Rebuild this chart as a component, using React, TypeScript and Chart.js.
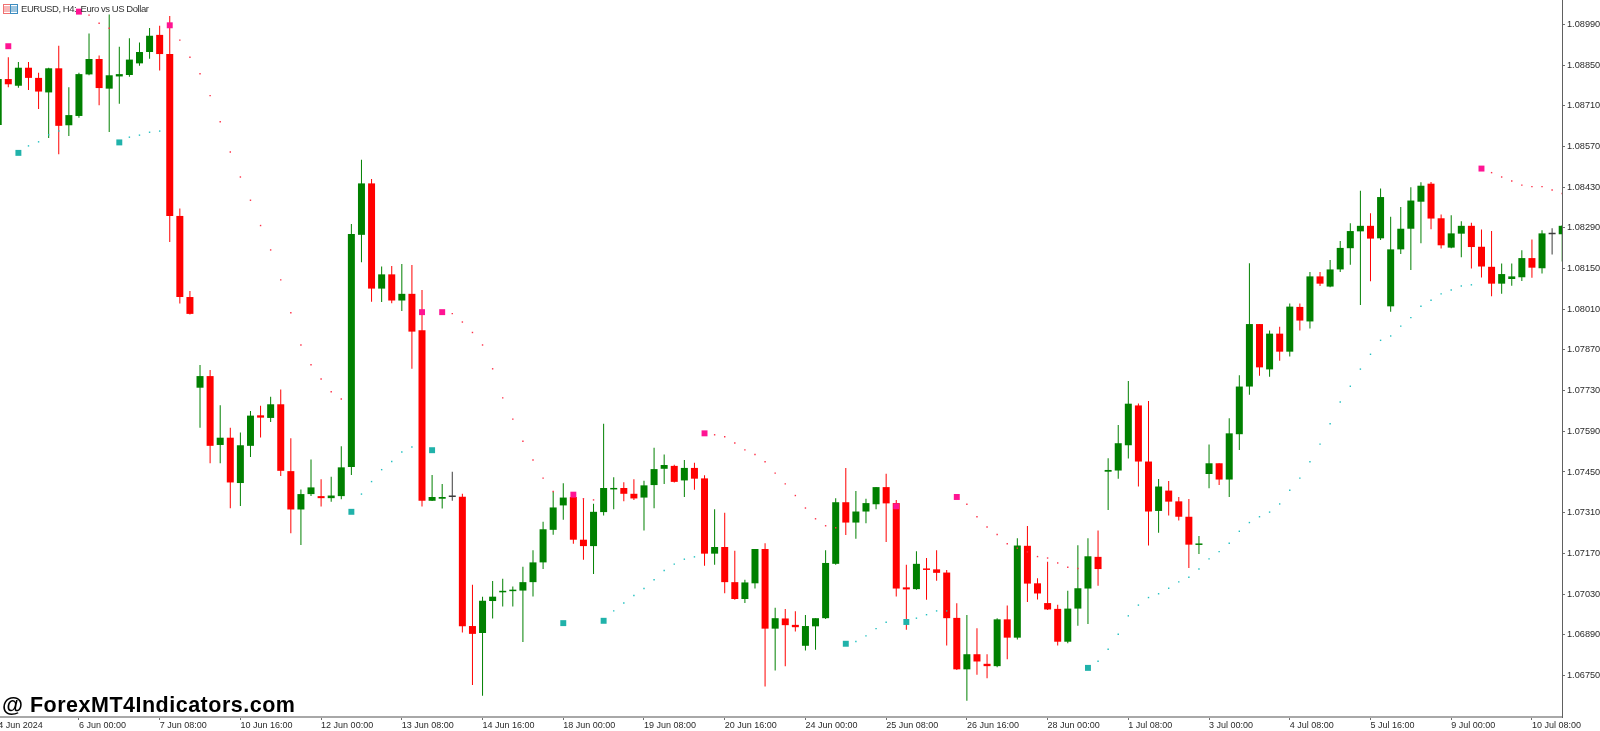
import React, { useEffect, useRef } from "react";
import { Chart, registerables } from "chart.js";

Chart.register(...registerables);

const opens = [
  1.08644, 1.08802, 1.08779, 1.08841, 1.08806, 1.08756, 1.08839, 1.08643, 1.08675, 1.08818,
  1.08871, 1.08769, 1.08811, 1.08816, 1.08856, 1.08895, 1.08954, 1.08888, 1.08331, 1.08052,
  1.0774, 1.0778, 1.07543, 1.07568, 1.07412, 1.0754, 1.07645, 1.07636, 1.07683, 1.07453,
  1.07321, 1.07374, 1.07367, 1.0736, 1.07367, 1.07467, 1.08266, 1.08443, 1.08081, 1.0813,
  1.0804, 1.08063, 1.07938, 1.07351, 1.07358, 1.07364, 1.07365, 1.0692, 1.06896, 1.07006,
  1.07036, 1.0704, 1.07042, 1.07071, 1.07139, 1.07251, 1.07335, 1.07364, 1.07217, 1.07195,
  1.07312, 1.0739, 1.07395, 1.07375, 1.07362, 1.07405, 1.07461, 1.07471, 1.07421, 1.07464,
  1.07428, 1.07169, 1.07192, 1.07071, 1.07013, 1.07067, 1.07185, 1.06911, 1.06946, 1.06924,
  1.06852, 1.06919, 1.06947, 1.07134, 1.07346, 1.07276, 1.07314, 1.07339, 1.07398, 1.07343,
  1.07053, 1.07047, 1.07116, 1.07115, 1.07104, 1.06948, 1.06771, 1.06823, 1.0679, 1.06782,
  1.06943, 1.0688, 1.07196, 1.07067, 1.06999, 1.06979, 1.06866, 1.0698, 1.07049, 1.07158,
  1.07451, 1.07455, 1.07542, 1.07679, 1.07486, 1.07316, 1.07386, 1.07349, 1.07296, 1.07199,
  1.07443, 1.0748, 1.07424, 1.0758, 1.07744, 1.07959, 1.07803, 1.07926, 1.07864, 1.08018,
  1.07968, 1.08123, 1.08088, 1.08147, 1.0822, 1.08278, 1.08297, 1.08254, 1.0802, 1.08216,
  1.08287, 1.0838, 1.08442, 1.08323, 1.08222, 1.0827, 1.08297, 1.08225, 1.08156, 1.08098,
  1.08114, 1.0812, 1.08186, 1.08151, 1.08268, 1.08268,
];

const closes = [
  1.08802, 1.08784, 1.08841, 1.08806, 1.08759, 1.08839, 1.08641, 1.08678, 1.08819, 1.08871,
  1.08771, 1.08815, 1.08819, 1.08869, 1.08895, 1.08951, 1.08888, 1.08331, 1.08052, 1.07994,
  1.0778, 1.0754, 1.07568, 1.07414, 1.07542, 1.07644, 1.07637, 1.07683, 1.07454, 1.07321,
  1.07374, 1.07397, 1.0736, 1.07369, 1.07466, 1.08269, 1.08443, 1.08081, 1.0813, 1.0804,
  1.08063, 1.07933, 1.07351, 1.07364, 1.07364, 1.07364, 1.06919, 1.06893, 1.07007, 1.07021,
  1.07041, 1.07045, 1.07071, 1.07139, 1.07253, 1.07328, 1.07362, 1.07217, 1.07195, 1.07313,
  1.07395, 1.07395, 1.07375, 1.07359, 1.07404, 1.0746, 1.07474, 1.07416, 1.07464, 1.07427,
  1.07169, 1.07192, 1.07071, 1.07013, 1.0707, 1.07185, 1.06911, 1.06947, 1.06923, 1.06916,
  1.0692, 1.06947, 1.07137, 1.07346, 1.07276, 1.07314, 1.07343, 1.07398, 1.07342, 1.07049,
  1.07046, 1.07134, 1.07113, 1.07103, 1.06947, 1.06771, 1.06823, 1.06798, 1.06782, 1.06943,
  1.0688, 1.07197, 1.07066, 1.07032, 1.06977, 1.06866, 1.0698, 1.0705, 1.0716, 1.07116,
  1.07457, 1.07549, 1.07685, 1.07486, 1.07314, 1.074, 1.07348, 1.07296, 1.072, 1.07204,
  1.0748, 1.07424, 1.07583, 1.07744, 1.07959, 1.0781, 1.07926, 1.07864, 1.08019, 1.07971,
  1.08123, 1.08098, 1.08147, 1.08221, 1.08279, 1.08297, 1.08253, 1.08396, 1.08216, 1.08287,
  1.08384, 1.08435, 1.08322, 1.0823, 1.08271, 1.08297, 1.08224, 1.08157, 1.08098, 1.08131,
  1.08123, 1.08186, 1.08153, 1.08271, 1.08268, 1.08297,
];

const highs = [
  1.0881, 1.08877, 1.08861, 1.08861, 1.08824, 1.08841, 1.08917, 1.08774, 1.08824, 1.08959,
  1.08883, 1.09024, 1.08913, 1.08942, 1.08928, 1.08978, 1.08985, 1.09019, 1.08357, 1.08073,
  1.07818, 1.07801, 1.0768, 1.07602, 1.07586, 1.0766, 1.07678, 1.07709, 1.07734, 1.07566,
  1.0739, 1.07493, 1.07425, 1.07434, 1.07539, 1.08303, 1.08524, 1.08458, 1.08157, 1.08159,
  1.08166, 1.08162, 1.08076, 1.0744, 1.07409, 1.07451, 1.07375, 1.07062, 1.07021, 1.07075,
  1.07083, 1.07056, 1.07124, 1.07181, 1.07279, 1.07383, 1.07411, 1.0738, 1.0736, 1.07341,
  1.07616, 1.07432, 1.07415, 1.07425, 1.0742, 1.07533, 1.0751, 1.07475, 1.07491, 1.07482,
  1.07439, 1.07322, 1.0731, 1.07179, 1.07079, 1.07185, 1.07205, 1.06983, 1.06979, 1.06971,
  1.06958, 1.06947, 1.07181, 1.0736, 1.07464, 1.07385, 1.07358, 1.07398, 1.07444, 1.07354,
  1.07131, 1.07177, 1.07154, 1.07181, 1.07113, 1.06998, 1.06958, 1.06912, 1.06823, 1.06947,
  1.06991, 1.07222, 1.07264, 1.07084, 1.07141, 1.06993, 1.07041, 1.07198, 1.07222, 1.07249,
  1.07497, 1.07612, 1.07763, 1.07686, 1.07694, 1.07426, 1.07419, 1.07364, 1.07357, 1.0723,
  1.07545, 1.0748, 1.07635, 1.07783, 1.08168, 1.07959, 1.07937, 1.0795, 1.0803, 1.0803,
  1.08138, 1.08138, 1.08179, 1.08245, 1.08306, 1.08418, 1.0834, 1.08425, 1.08328, 1.08362,
  1.0843, 1.08447, 1.08448, 1.08336, 1.08333, 1.08313, 1.08308, 1.08284, 1.08279, 1.08167,
  1.08167, 1.08213, 1.0825, 1.08282, 1.08289, 1.083,
];

const lows = [
  1.0864, 1.08774, 1.08772, 1.08764, 1.08699, 1.08599, 1.08543, 1.08606, 1.08669, 1.08815,
  1.08712, 1.0862, 1.08717, 1.0881, 1.08848, 1.08872, 1.08831, 1.08241, 1.0803, 1.07992,
  1.07602, 1.0748, 1.0748, 1.07325, 1.07333, 1.07502, 1.07569, 1.07622, 1.07436, 1.07239,
  1.07199, 1.07367, 1.07331, 1.07348, 1.07356, 1.0744, 1.08172, 1.08036, 1.08035, 1.08031,
  1.08004, 1.07805, 1.07331, 1.0735, 1.07324, 1.07351, 1.06898, 1.06717, 1.0668, 1.06946,
  1.06987, 1.06987, 1.06865, 1.07022, 1.07116, 1.07234, 1.07286, 1.07203, 1.07148, 1.07099,
  1.073, 1.07322, 1.07349, 1.07354, 1.07249, 1.07325, 1.07409, 1.07414, 1.07364, 1.07389,
  1.07127, 1.07131, 1.07033, 1.0701, 1.06999, 1.07049, 1.06712, 1.06767, 1.06782, 1.06901,
  1.06836, 1.06838, 1.06944, 1.07131, 1.07233, 1.0722, 1.07274, 1.07322, 1.07209, 1.07022,
  1.06907, 1.07045, 1.0701, 1.07076, 1.06853, 1.06769, 1.06663, 1.06752, 1.0674, 1.06778,
  1.06806, 1.06874, 1.07003, 1.07011, 1.06975, 1.06853, 1.06861, 1.06921, 1.06927, 1.07059,
  1.07319, 1.07427, 1.07496, 1.074, 1.07197, 1.07241, 1.073, 1.07283, 1.0712, 1.07168,
  1.07394, 1.07405, 1.07364, 1.07526, 1.07716, 1.07781, 1.07778, 1.07833, 1.07847, 1.07937,
  1.07944, 1.0809, 1.08086, 1.08138, 1.08163, 1.08025, 1.08106, 1.08248, 1.08001, 1.082,
  1.08145, 1.08237, 1.08285, 1.08219, 1.0822, 1.08189, 1.0815, 1.08119, 1.08055, 1.08063,
  1.08091, 1.08107, 1.08118, 1.08133, 1.08198, 1.08174,
];

const sellSignalBars = [1, 8, 17, 42, 44, 57, 70, 89, 95, 147];
const sellSignalPrices = [1.08915, 1.09034, 1.08987, 1.08, 1.08, 1.07372, 1.07583, 1.07332, 1.07364, 1.08494];

const sellTrailBars = [
  9, 10, 11, 18, 19, 20, 21, 22, 23, 24, 25, 26, 27, 28, 29, 30, 31, 32, 33, 34,
  45, 46, 47, 48, 49, 50, 51, 52, 53, 54, 55, 58, 59,
  71, 72, 73, 74, 75, 76, 77, 78, 79, 80, 81, 82, 83,
  96, 97, 98, 99, 100, 101, 102, 103, 104, 105, 106, 107,
  148, 149, 150, 151, 152, 153, 154, 155,
];
const sellTrailPrices = [
  1.09022, 1.08994, 1.08977, 1.08936, 1.08877, 1.0882, 1.08745, 1.08655, 1.08551, 1.08465,
  1.08385, 1.08298, 1.08214, 1.08111, 1.07998, 1.07887, 1.07819, 1.0777, 1.07726, 1.07701,
  1.07995, 1.07966, 1.0793, 1.07887, 1.07805, 1.07705, 1.07632, 1.07556, 1.07491, 1.07429, 1.07383, 1.07358, 1.07354,
  1.07578, 1.07571, 1.0755, 1.07526, 1.0751, 1.07485, 1.07446, 1.07409, 1.07369, 1.07326, 1.07289, 1.07265, 1.07258,
  1.07339, 1.07296, 1.07261, 1.07235, 1.07203, 1.07188, 1.07175, 1.07159, 1.07154, 1.07137, 1.07122, 1.07118,
  1.0848, 1.08465, 1.08451, 1.08437, 1.08432, 1.08432, 1.0842, 1.08408,
];

const buySignalBars = [2, 12, 35, 43, 56, 60, 84, 90, 108];
const buySignalPrices = [1.08548, 1.08584, 1.07313, 1.07525, 1.0693, 1.06938, 1.06859, 1.06934, 1.06776];

const buyTrailBars = [
  3, 4, 5, 6, 13, 14, 15, 16, 36, 37, 38, 39, 40, 41,
  61, 62, 63, 64, 65, 66, 67, 68, 69, 85, 86, 87, 88, 91, 92, 93, 94,
  109, 110, 111, 112, 113, 114, 115, 116, 117, 118, 119, 120, 121, 122, 123, 124, 125, 126, 127,
  128, 129, 130, 131, 132, 133, 134, 135, 136, 137, 138, 139, 140, 141, 142, 143, 144, 145, 146,
];
const buyTrailPrices = [
  1.08572, 1.08586, 1.0861, 1.08623, 1.08602, 1.08609, 1.08619, 1.08623,
  1.07374, 1.07417, 1.07458, 1.07486, 1.07519, 1.07536,
  1.06972, 1.06999, 1.07025, 1.07049, 1.07079, 1.07111, 1.07133, 1.0715, 1.07158,
  1.06867, 1.06886, 1.06911, 1.06933, 1.06947, 1.06959, 1.06972, 1.06972,
  1.06799, 1.0684, 1.06892, 1.06955, 1.06992, 1.07018, 1.07031, 1.0705, 1.07072, 1.07088,
  1.07116, 1.07151, 1.07176, 1.07205, 1.07246, 1.07276, 1.07296, 1.07312, 1.0734,
  1.07387, 1.07429, 1.07485, 1.07546, 1.07616, 1.07691, 1.07745, 1.07804, 1.07855, 1.07903,
  1.07918, 1.07952, 1.07981, 1.0802, 1.08041, 1.08063, 1.08076, 1.0809, 1.08094,
];

const priceTicks = [
  1.0899, 1.0885, 1.0871, 1.0857, 1.0843, 1.0829, 1.0815, 1.0801, 1.0787, 1.0773, 1.0759,
  1.0745, 1.0731, 1.0717, 1.0703, 1.0689, 1.0675,
];
const timeTickBars = [0, 8, 16, 24, 32, 40, 48, 56, 64, 72, 80, 88, 96, 104, 112, 120, 128, 136, 144, 152];
const timeTickLabels = [
  "4 Jun 2024", "6 Jun 00:00", "7 Jun 08:00", "10 Jun 16:00", "12 Jun 00:00", "13 Jun 08:00",
  "14 Jun 16:00", "18 Jun 00:00", "19 Jun 08:00", "20 Jun 16:00", "24 Jun 00:00", "25 Jun 08:00",
  "26 Jun 16:00", "28 Jun 00:00", "1 Jul 08:00", "3 Jul 00:00", "4 Jul 08:00", "5 Jul 16:00",
  "9 Jul 00:00", "10 Jul 08:00",
];

const UP = "#008000";
const DOWN = "#ff0000";
const DOJI = "#3c3c3c";
const candleColor = (i: number) =>
  closes[i] > opens[i] ? UP : closes[i] < opens[i] ? DOWN : DOJI;
const FONT = "'Liberation Sans', Arial, sans-serif";

export default function App() {
  const ref = useRef<HTMLCanvasElement>(null);

  useEffect(() => {
    document.body.style.margin = "0";
    document.body.style.background = "#fff";
    const pairs = (xs: number[], ys: number[]) => xs.map((x, i) => ({ x, y: ys[i] }));
    const markers = (xs: number[], ys: number[], color: string, radius: number) => ({
      type: "line" as const,
      data: pairs(xs, ys),
      showLine: false,
      order: 1,
      pointStyle: "rect",
      pointRadius: radius,
      pointBackgroundColor: color,
      pointBorderWidth: 0,
    });
    const chart = new Chart(ref.current as HTMLCanvasElement, {
      type: "bar",
      data: {
        datasets: [
          {
            data: opens.map((_, i) => ({ x: i, y: [lows[i], highs[i]] })),
            backgroundColor: opens.map((_, i) => candleColor(i)),
            barThickness: 1,
            grouped: false,
            borderWidth: 0,
            inflateAmount: 0,
            order: 3,
          },
          {
            data: opens.map((_, i) => ({
              x: i,
              y: [Math.min(opens[i], closes[i]), Math.max(opens[i], closes[i])],
            })),
            backgroundColor: opens.map((_, i) => candleColor(i)),
            barThickness: 7,
            grouped: false,
            borderWidth: 0,
            inflateAmount: 0,
            minBarLength: 1.5,
            order: 2,
          },
          markers(sellTrailBars, sellTrailPrices, "#ff3048", 1),
          markers(buyTrailBars, buyTrailPrices, "#20c0c0", 1),
          markers(sellSignalBars, sellSignalPrices, "#ff1493", 4.2),
          markers(buySignalBars, buySignalPrices, "#20b2aa", 4.2),
        ] as any,
      },
      options: {
        responsive: false,
        animation: false,
        layout: { padding: 0, autoPadding: false },
        plugins: { legend: { display: false }, tooltip: { enabled: false }, title: { display: false } },
        scales: {
          x: {
            type: "linear",
            offset: false,
            min: 0.177,
            max: 154.98,
            afterFit: (s: any) => {
              s.height = 14;
              s.paddingLeft = 0;
              s.paddingRight = 0;
            },
            afterBuildTicks: (s: any) => { s.ticks = timeTickBars.map((value) => ({ value })); },
            grid: { offset: false, drawOnChartArea: false, tickLength: 3, color: "#707070" },
            border: { color: "#a8a8a8", width: 2 },
            ticks: {
              autoSkip: false,
              maxRotation: 0,
              minRotation: 0,
              align: "start",
              padding: 0,
              color: "#2a2a2a",
              font: { family: FONT, size: 9 },
              callback: (v: any) => timeTickLabels[timeTickBars.indexOf(Number(v))] ?? "",
            },
          },
          y: {
            type: "linear",
            position: "right",
            min: 1.06607,
            max: 1.09074,
            afterFit: (s: any) => {
              s.width = 38;
              s.paddingTop = 0;
              s.paddingBottom = 0;
            },
            afterBuildTicks: (s: any) => { s.ticks = priceTicks.map((value) => ({ value })); },
            grid: { drawOnChartArea: false, tickLength: 3, color: "#707070" },
            border: { color: "#606060", width: 1 },
            ticks: {
              padding: 2,
              color: "#2a2a2a",
              font: { family: FONT, size: 9.2 },
              callback: (v: any) => Number(v).toFixed(5),
            },
          },
        },
      } as any,
    });
    return () => chart.destroy();
  }, []);

  return (
    <div style={{ position: "absolute", left: 0, top: 0, width: 1600, height: 731, overflow: "hidden", background: "#fff" }}>
      <canvas ref={ref} width={1600} height={731} style={{ display: "block" }} />
      <svg width="15" height="10" style={{ position: "absolute", left: 3, top: 4 }}>
        <rect x="0.5" y="0.5" width="7" height="9" fill="#fff" stroke="#f07070" />
        <path d="M1 3h6M1 5h6M1 7h6" stroke="#f07070" />
        <rect x="7.5" y="0.5" width="7" height="9" fill="#fff" stroke="#3c8cc0" />
        <path d="M8 3h6M8 5h6M8 7h6" stroke="#3c8cc0" />
      </svg>
      <div style={{ position: "absolute", left: 21, top: 3, font: `9.5px ${FONT}`, letterSpacing: "-0.45px", color: "#333", whiteSpace: "pre", lineHeight: "12px" }}>
        {"EURUSD, H4:  Euro vs US Dollar"}
      </div>
      <div style={{ position: "absolute", left: 2, top: 693, font: `bold 21.5px ${FONT}`, letterSpacing: "0.5px", color: "#000", whiteSpace: "pre", lineHeight: "24px" }}>
        @ ForexMT4Indicators.com
      </div>
    </div>
  );
}
